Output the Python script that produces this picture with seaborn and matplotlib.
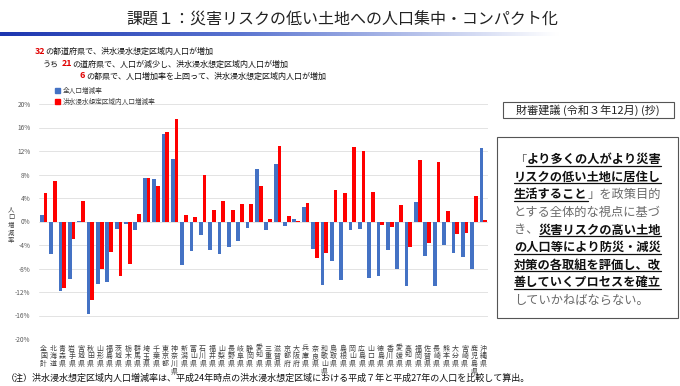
import matplotlib
matplotlib.use("Agg")
import matplotlib.pyplot as plt
from matplotlib.colors import LinearSegmentedColormap
from matplotlib.lines import Line2D
from matplotlib.patches import Rectangle
from matplotlib.ticker import FuncFormatter
import numpy as np
import pandas as pd
import seaborn as sns

prefs = ["全国計", "北海道", "青森県", "岩手県", "宮城県", "秋田県", "山形県", "福島県",
         "茨城県", "栃木県", "群馬県", "埼玉県", "千葉県", "東京都", "神奈川県", "新潟県",
         "富山県", "石川県", "福井県", "山梨県", "長野県", "岐阜県", "静岡県", "愛知県",
         "三重県", "滋賀県", "京都府", "大阪府", "兵庫県", "奈良県", "和歌山県", "鳥取県",
         "島根県", "岡山県", "広島県", "山口県", "徳島県", "香川県", "愛媛県", "高知県",
         "福岡県", "佐賀県", "長崎県", "熊本県", "大分県", "宮崎県", "鹿児島県", "沖縄県"]
total_rate = [1.1, -5.5, -11.8, -9.8, 0.1, -15.7, -10.6, -10.3,
              -1.3, -0.5, -1.5, 7.4, 7.3, 14.9, 10.6, -7.4,
              -5.1, -2.3, -4.9, -5.5, -4.3, -3.4, -1.1, 8.9,
              -1.4, 9.8, -0.7, 0.4, 2.4, -4.7, -10.8, -6.7,
              -10.0, -1.5, -1.3, -9.7, -9.3, -4.9, -8.1, -10.9,
              3.3, -5.9, -10.9, -4.0, -5.3, -6.1, -8.1, 12.5]
flood_rate = [4.8, 6.9, -11.4, -3.0, 3.5, -13.4, -8.0, -5.2,
              -9.3, -7.3, 1.25, 7.4, 6.0, 15.3, 17.5, 1.1,
              0.85, 7.9, 1.9, 3.5, 1.9, 2.9, 2.9, 6.0,
              0.45, 12.9, 0.9, 0.15, 3.1, -6.25, -5.4, 5.3,
              4.8, 12.6, 12.0, 5.1, -0.6, -1.0, 2.8, -4.4,
              10.4, -3.6, 10.1, 1.8, -2.2, -2.0, 4.3, 0.3]
series_names = ["全人口増減率", "洪水浸水想定区域内人口増減率"]
series_colors = ["#4472C4", "#FF0000"]

W, H = 680, 386
sns.set_theme(style="white")
plt.rcParams["font.family"] = ["Noto Sans CJK JP", "DejaVu Sans"]

fig = plt.figure(figsize=(W / 100, H / 100), dpi=100)
fig.patch.set_facecolor("white")


def fx(x):
    return x / W


def fy(y):
    return 1 - y / H


# title + gradient band
fig.text(fx(342), fy(20), "課題１：災害リスクの低い土地への人口集中・コンパクト化",
         ha="center", va="center", fontsize=11.5, color="#222222")
band = fig.add_axes([0, fy(36), 1, 4 / H])
cmap = LinearSegmentedColormap.from_list(
    "band", [(0, "#1c36b0"), (0.35, "#5a74d0"), (0.82, "#ffffff"), (1, "#ffffff")])
band.imshow(np.linspace(0, 1, 256)[None, :], aspect="auto", cmap=cmap)
band.axis("off")

# summary lines
fs_sum = 5.8
fig.text(fx(35), fy(51), "32", color="#E00000", fontsize=fs_sum + 0.6,
         fontweight="bold", va="center")
fig.text(fx(45), fy(51), "の都道府県で、洪水浸水想定区域内人口が増加",
         fontsize=fs_sum, va="center", color="#111111")
fig.text(fx(43), fy(64), "うち", fontsize=fs_sum, va="center", color="#111111")
fig.text(fx(62), fy(64), "21", color="#E00000", fontsize=fs_sum + 0.6,
         fontweight="bold", va="center")
fig.text(fx(72), fy(64), "の道府県で、人口が減少し、洪水浸水想定区域内人口が増加",
         fontsize=fs_sum, va="center", color="#111111")
fig.text(fx(80), fy(76), "6", color="#E00000", fontsize=fs_sum + 0.6,
         fontweight="bold", va="center")
fig.text(fx(86), fy(76), "の都県で、人口増加率を上回って、洪水浸水想定区域内人口が増加",
         fontsize=fs_sum, va="center", color="#111111")

# chart
df = pd.DataFrame({
    "pref": prefs * 2,
    "series": [series_names[0]] * len(prefs) + [series_names[1]] * len(prefs),
    "value": total_rate + flood_rate,
})
ax = fig.add_axes([fx(39), fy(339), fx(488 - 39), (339 - 104) / H])
sns.barplot(data=df, x="pref", y="value", hue="series", hue_order=series_names,
            palette=series_colors, width=0.8, saturation=1, ax=ax, legend=True)
ax.set_ylim(-20, 20)
ax.set_xlim(-0.5, len(prefs) - 0.5)
ax.set_yticks(np.arange(-20, 21, 4))
ax.yaxis.set_major_formatter(FuncFormatter(lambda v, p: f"{v:.0f}%"))
ax.grid(axis="y", color="#E3E3E3", linewidth=0.7)
ax.set_axisbelow(True)
for s in ax.spines.values():
    s.set_visible(False)
ax.tick_params(axis="y", labelsize=4.7, colors="#595959", length=0, pad=6)
ax.tick_params(axis="x", length=0, pad=4)
ax.set_xticks(range(len(prefs)))
ax.set_xticklabels(["\n".join(p) for p in prefs], fontsize=5, color="#404040",
                   linespacing=0.95, va="top")
ax.set_xlabel("")
ax.set_ylabel("")
for bar in ax.patches:
    bar.set_edgecolor("none")
ax.get_legend().remove()

handles = [Rectangle((0, 0), 1, 1, color=c) for c in series_colors]
fig.legend(handles, series_names, loc="upper left", bbox_to_anchor=(fx(55), fy(87)),
           frameon=False, fontsize=4.8, handlelength=0.7, handleheight=0.7,
           handletextpad=0.5, labelspacing=0.45, borderaxespad=0, borderpad=0,
           labelcolor="#404040")

fig.text(fx(11), fy(225), "\n".join("人口増減率"), fontsize=4.6, ha="center",
         va="center", linespacing=0.95, color="#404040")

# footnote
fig.text(fx(6), fy(378),
         "（注）洪水浸水想定区域内人口増減率は、平成24年時点の洪水浸水想定区域における平成７年と平成27年の人口を比較して算出。",
         fontsize=6.5, va="center", color="#111111")

# right boxes
fig.add_artist(Rectangle((fx(503), fy(118)), fx(674 - 503), (118 - 102) / H,
                         transform=fig.transFigure, fill=False,
                         edgecolor="#555555", linewidth=0.8))
fig.text(fx(588), fy(110), "財審建議 (令和３年12月) (抄)", fontsize=8,
         ha="center", va="center", color="#222222")
fig.add_artist(Rectangle((fx(497), fy(318)), fx(678 - 497), (318 - 137) / H,
                         transform=fig.transFigure, fill=False,
                         edgecolor="#555555", linewidth=0.8))

quote_lines = [
    [("「", False), ("より多くの人がより災害", True)],
    [("リスクの低い土地に居住し", True)],
    [("生活すること", True), ("」を政策目的", False)],
    [("とする全体的な視点に基づ", False)],
    [("き、", False), ("災害リスクの高い土地", True)],
    [("の人口等により防災・減災", True)],
    [("対策の各取組を評価し、改", True)],
    [("善していくプロセスを確立", True)],
    [("していかねばならない。", False)],
]
renderer = fig.canvas.get_renderer()
y0, dy = 163, 17.6
for i, segs in enumerate(quote_lines):
    x = fx(514)
    y = fy(y0 + i * dy)
    for txt, under in segs:
        t = fig.text(x, y, txt, fontsize=8.8, va="baseline",
                     color="#111111" if under else "#6a6a6a",
                     fontweight="bold" if under else "normal")
        ext = t.get_window_extent(renderer)
        if under:
            fig.add_artist(Line2D([ext.x0 / W, ext.x1 / W], [y - 2.5 / H, y - 2.5 / H],
                                  transform=fig.transFigure, color="#111111",
                                  linewidth=0.9))
        x = ext.x1 / W

fig.savefig("out.png", dpi=100)
